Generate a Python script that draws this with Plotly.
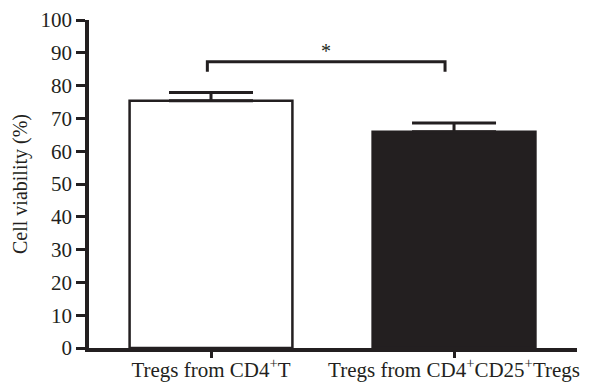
import plotly.graph_objects as go

categories = ["Tregs from CD4<sup>+</sup>T", "Tregs from CD4<sup>+</sup>CD25<sup>+</sup>Tregs"]
means = [75.4, 65.9]
errors = [2.5, 2.7]
bar_colors = ["white", "#231f20"]
y_ticks = [0, 10, 20, 30, 40, 50, 60, 70, 80, 90, 100]
y_title = "Cell viability (%)"
sig_label = "*"
sig_y = 87.3
sig_drop = 3.1

x_pos = [0, 1]
ink = "#231f20"
font = "Liberation Serif, Times New Roman, serif"

fig = go.Figure()
fig.add_trace(go.Bar(
    x=x_pos, y=means, width=0.67,
    marker=dict(color=bar_colors, line=dict(color=ink, width=2.5)),
    error_y=dict(type="data", array=errors, arrayminus=[0, 0], symmetric=False,
                 color=ink, thickness=3, width=42),
))

x0, x1 = x_pos[0] - 0.015, x_pos[1] - 0.037
fig.add_shape(type="path",
              path=f"M {x0} {sig_y - sig_drop} L {x0} {sig_y} L {x1} {sig_y} L {x1} {sig_y - sig_drop}",
              line=dict(color=ink, width=3), xref="x", yref="y")
fig.add_annotation(x=(x0 + x1) / 2, y=sig_y, text=sig_label, showarrow=False,
                   yanchor="bottom", yshift=-2, font=dict(size=20, family=font, color=ink))
fig.add_annotation(xref="paper", yref="paper", x=0, y=0.5, xshift=-69,
                   text=y_title, textangle=-90, showarrow=False,
                   xanchor="center", yanchor="middle",
                   font=dict(size=20, family=font, color=ink))

# page body has an 8px default margin, so the figure is 8px smaller to fit the window
fig.update_layout(
    width=582, height=374,
    margin=dict(l=81, r=13, t=12, b=34),
    plot_bgcolor="white", paper_bgcolor="white",
    showlegend=False,
    font=dict(family=font, color=ink),
    xaxis=dict(range=[-0.502, 1.506], tickmode="array", tickvals=x_pos, ticktext=categories,
               showline=True, linecolor=ink, linewidth=3.5,
               ticks="outside", ticklen=6, tickwidth=3, tickcolor=ink,
               tickfont=dict(size=21, family=font, color=ink),
               ticklabelstandoff=-6,
               showgrid=False, zeroline=False, automargin=False),
    yaxis=dict(range=[0, 100], tickmode="array", tickvals=y_ticks,
               showline=True, linecolor=ink, linewidth=3.5,
               ticks="outside", ticklen=9, tickwidth=3, tickcolor=ink,
               tickfont=dict(size=21, family=font, color=ink),
               showgrid=False, zeroline=False, automargin=False),
)
fig.write_html("out.html")
